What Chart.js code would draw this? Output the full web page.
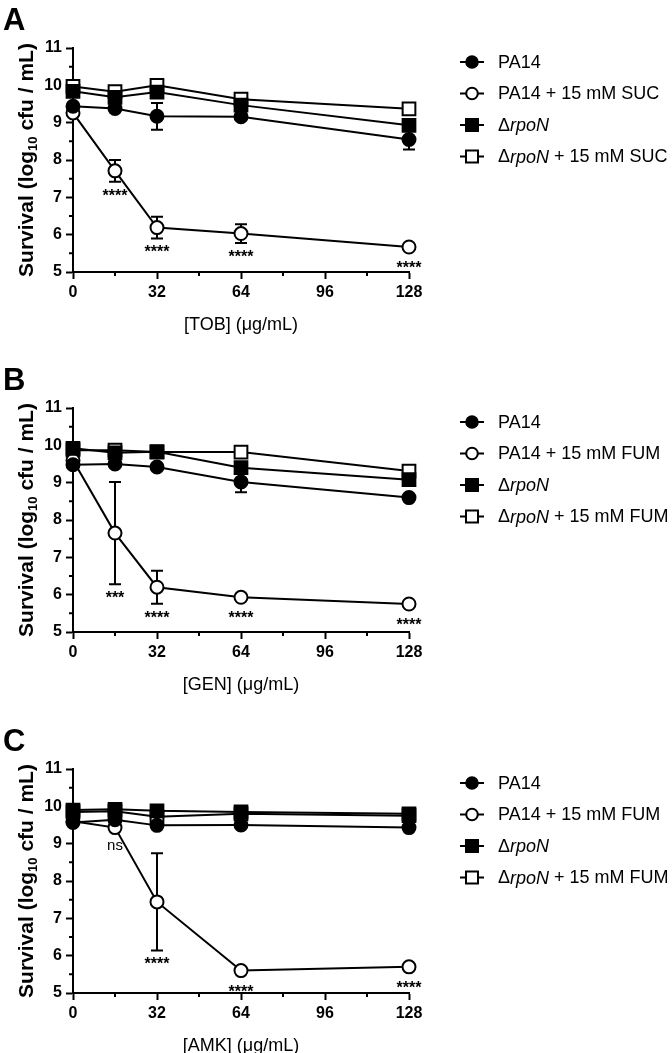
<!DOCTYPE html>
<html>
<head>
<meta charset="utf-8">
<script src="https://cdn.jsdelivr.net/npm/chart.js@4.4.0/dist/chart.umd.min.js"></script>
<style>
  html, body { margin: 0; padding: 0; background: #fff; overflow: hidden; }
  .panel { position: absolute; left: 0; width: 672px; height: 336px; }
</style>
</head>
<body>
<div class="panel" style="top:0"><canvas id="chartA" width="672" height="336"></canvas></div>
<div class="panel" style="top:360px"><canvas id="chartB" width="672" height="336"></canvas></div>
<div class="panel" style="top:721px"><canvas id="chartC" width="672" height="336"></canvas></div>
<script>
const FONT = "'Liberation Sans', Arial, Helvetica, sans-serif";

// antibiotic dose (ug/mL)
const doses = [0, 16, 32, 64, 128];
const minorX = [16, 48, 80, 112];
const minorY = [5.5, 6.5, 7.5, 8.5, 9.5, 10.5];

// A - tobramycin, succinate
const tobPA14 = [9.44, 9.38, 9.17, 9.16, 8.55];
const tobPA14Err = [0.05, 0.05, 0.36, 0.08, 0.27];
const tobPA14Suc = [9.26, 7.71, 6.19, 6.03, 5.67];
const tobPA14SucErr = [0, 0.29, 0.29, 0.25, 0];
const tobRpoN = [9.84, 9.68, 9.82, 9.47, 8.93];
const tobRpoNErr = [0.05, 0.05, 0.05, 0.05, 0.08];
const tobRpoNSuc = [9.97, 9.83, 10.0, 9.63, 9.37];
const tobRpoNSucErr = [0, 0, 0, 0, 0];
const tobStars = ['', '****', '****', '****', '****'];

// B - gentamicin, fumarate
const genPA14 = [9.48, 9.5, 9.42, 9.02, 8.6];
const genPA14Err = [0, 0, 0, 0.28, 0];
const genPA14Fum = [9.6, 7.65, 6.2, 5.93, 5.75];
const genPA14FumErr = [0, 1.37, 0.44, 0, 0];
const genRpoN = [9.92, 9.8, 9.83, 9.4, 9.08];
const genRpoNErr = [0, 0, 0, 0, 0.15];
const genRpoNFum = [9.87, 9.87, 9.82, 9.82, 9.31];
const genRpoNFumErr = [0, 0, 0, 0, 0];
const genStars = ['', '***', '****', '****', '****'];

// C - amikacin, fumarate
const amkPA14 = [9.57, 9.64, 9.49, 9.5, 9.43];
const amkPA14Err = [0, 0, 0, 0, 0];
const amkPA14Fum = [9.6, 9.43, 7.44, 5.6, 5.7];
const amkPA14FumErr = [0, 0, 1.3, 0, 0];
const amkRpoN = [9.9, 9.92, 9.88, 9.85, 9.8];
const amkRpoNErr = [0, 0, 0, 0, 0];
const amkRpoNFum = [9.85, 9.87, 9.72, 9.8, 9.75];
const amkRpoNFumErr = [0, 0, 0, 0, 0];
const amkStars = ['', 'ns', '****', '****', '****'];

const sucNames = ['PA14', 'PA14 + 15 mM SUC', '\u0394rpoN', '\u0394rpoN + 15 mM SUC'];
const fumNames = ['PA14', 'PA14 + 15 mM FUM', '\u0394rpoN', '\u0394rpoN + 15 mM FUM'];

const fills = ['#000', '#fff', '#000', '#fff'];
const shapes = ['circle', 'circle', 'rect', 'rect'];

function drawMarker(ctx, shape, x, y, fill) {
  ctx.save();
  ctx.fillStyle = fill;
  ctx.strokeStyle = '#000';
  ctx.lineWidth = 2;
  ctx.beginPath();
  if (shape === 'circle') ctx.arc(x, y, 5.8, 0, Math.PI * 2);
  else ctx.rect(x - 6, y - 6, 12, 12);
  ctx.fill();
  ctx.stroke();
  ctx.restore();
}

// draw a label with "rpoN" in italics
function drawRich(ctx, text, x, y, size) {
  const parts = text.split(/(rpoN)/).filter(p => p);
  let cx = x;
  parts.forEach(p => {
    ctx.font = (p === 'rpoN' ? 'italic ' : '') + size + 'px ' + FONT;
    ctx.fillText(p, cx, y);
    cx += ctx.measureText(p).width;
  });
}

const decor = {
  id: 'decor',
  beforeDatasetsDraw(chart) {
    const ctx = chart.ctx, xs = chart.scales.x, ys = chart.scales.y;
    ctx.save();
    ctx.strokeStyle = '#000';
    ctx.lineWidth = 2;
    // error bars
    chart.data.datasets.forEach(ds => {
      ds.errors.forEach((e, j) => {
        if (!e) return;
        const px = xs.getPixelForValue(ds.data[j].x);
        const hi = ys.getPixelForValue(ds.data[j].y + e);
        const lo = ys.getPixelForValue(ds.data[j].y - e);
        ctx.beginPath();
        ctx.moveTo(px, hi); ctx.lineTo(px, lo);
        ctx.moveTo(px - 6, hi); ctx.lineTo(px + 6, hi);
        ctx.moveTo(px - 6, lo); ctx.lineTo(px + 6, lo);
        ctx.stroke();
      });
    });
    // minor ticks
    const a = chart.chartArea;
    ctx.beginPath();
    minorX.forEach(v => {
      const px = xs.getPixelForValue(v);
      ctx.moveTo(px, a.bottom); ctx.lineTo(px, a.bottom + 4);
    });
    minorY.forEach(v => {
      const py = ys.getPixelForValue(v);
      ctx.moveTo(a.left - 4, py); ctx.lineTo(a.left, py);
    });
    ctx.stroke();
    ctx.restore();
  },
  afterDatasetsDraw(chart) {
    const ctx = chart.ctx, xs = chart.scales.x, ys = chart.scales.y;
    ctx.save();
    ctx.fillStyle = '#000';
    ctx.textAlign = 'center';
    ctx.textBaseline = 'alphabetic';
    chart.data.datasets.forEach(ds => {
      if (!ds.stars) return;
      ds.stars.forEach((s, j) => {
        if (!s) return;
        const px = xs.getPixelForValue(ds.data[j].x);
        const lo = Math.max(ys.getPixelForValue(ds.data[j].y - ds.errors[j]),
                            ys.getPixelForValue(ds.data[j].y) + 7);
        ctx.font = s === 'ns' ? '15px ' + FONT : 'bold 16px ' + FONT;
        const m = ctx.measureText(s);
        ctx.fillText(s, px, lo + 7 + m.actualBoundingBoxAscent);
      });
    });
    ctx.restore();
  },
  afterDraw(chart, args, opts) {
    const ctx = chart.ctx, a = chart.chartArea;
    ctx.save();
    ctx.fillStyle = '#000';
    ctx.textBaseline = 'alphabetic';

    // panel letter
    ctx.textAlign = 'left';
    ctx.font = 'bold 31px ' + FONT;
    ctx.fillText(opts.letter, 3, 30);

    // x title
    ctx.textAlign = 'center';
    ctx.font = '18px ' + FONT;
    ctx.fillText(opts.xTitle, (a.left + a.right) / 2, 330);

    // y title with subscript
    ctx.translate(33, (a.top + a.bottom) / 2);
    ctx.rotate(-Math.PI / 2);
    ctx.textAlign = 'left';
    const segs = [['Survival (log', 21, 0], ['10', 13, 4], [' cfu / mL)', 21, 0]];
    let total = 0;
    segs.forEach(s => { ctx.font = 'bold ' + s[1] + 'px ' + FONT; total += ctx.measureText(s[0]).width; });
    let cx = -total / 2;
    segs.forEach(s => {
      ctx.font = 'bold ' + s[1] + 'px ' + FONT;
      ctx.fillText(s[0], cx, s[2]);
      cx += ctx.measureText(s[0]).width;
    });
    ctx.restore();

    // legend
    ctx.save();
    ctx.fillStyle = '#000';
    ctx.textBaseline = 'middle';
    ctx.textAlign = 'left';
    chart.data.datasets.forEach((ds, i) => {
      const y = a.top + 14 + i * 31.5;
      ctx.strokeStyle = '#000';
      ctx.lineWidth = 2;
      ctx.beginPath();
      ctx.moveTo(460, y); ctx.lineTo(484, y);
      ctx.stroke();
      drawMarker(ctx, shapes[i], 472, y, fills[i]);
      ctx.fillStyle = '#000';
      drawRich(ctx, ds.label, 498, y + 1, 18);
    });
    ctx.restore();
  }
};

function buildPanel(id, letter, xTitle, names, series, errors, stars) {
  const datasets = series.map((vals, i) => ({
    label: names[i],
    data: doses.map((d, j) => ({ x: d, y: vals[j] })),
    errors: errors[i],
    stars: i === 1 ? stars : null,
    borderColor: '#000',
    borderWidth: 2,
    backgroundColor: fills[i],
    pointStyle: shapes[i],
    pointRadius: shapes[i] === 'rect' ? 9 : 6.5,
    pointBackgroundColor: fills[i],
    pointBorderColor: '#000',
    pointBorderWidth: 2,
    tension: 0,
    clip: false,
    order: i % 2
  }));

  const tickFont = { family: FONT, size: 16, weight: 'bold' };
  new Chart(document.getElementById(id), {
    type: 'line',
    data: { datasets },
    options: {
      responsive: false,
      animation: false,
      layout: { padding: { top: 48, right: 263, bottom: 0, left: 0 } },
      plugins: {
        legend: { display: false },
        tooltip: { enabled: false },
        decor: { letter, xTitle }
      },
      scales: {
        x: {
          type: 'linear', min: 0, max: 128,
          ticks: { stepSize: 32, font: tickFont, color: '#000', padding: 4, maxRotation: 0 },
          grid: { drawOnChartArea: false, tickLength: 7, tickWidth: 2, tickColor: '#000' },
          border: { color: '#000', width: 2 },
          afterFit: s => { s.height = 336 - 272; }
        },
        y: {
          min: 5, max: 11,
          ticks: { stepSize: 1, font: tickFont, color: '#000', padding: 4 },
          grid: { drawOnChartArea: false, tickLength: 7, tickWidth: 2, tickColor: '#000' },
          border: { color: '#000', width: 2 },
          afterFit: s => { s.width = 73; }
        }
      }
    },
    plugins: [decor]
  });
}

buildPanel('chartA', 'A', '[TOB] (\u03bcg/mL)', sucNames,
  [tobPA14, tobPA14Suc, tobRpoN, tobRpoNSuc],
  [tobPA14Err, tobPA14SucErr, tobRpoNErr, tobRpoNSucErr], tobStars);
buildPanel('chartB', 'B', '[GEN] (\u03bcg/mL)', fumNames,
  [genPA14, genPA14Fum, genRpoN, genRpoNFum],
  [genPA14Err, genPA14FumErr, genRpoNErr, genRpoNFumErr], genStars);
buildPanel('chartC', 'C', '[AMK] (\u03bcg/mL)', fumNames,
  [amkPA14, amkPA14Fum, amkRpoN, amkRpoNFum],
  [amkPA14Err, amkPA14FumErr, amkRpoNErr, amkRpoNFumErr], amkStars);
</script>
</body>
</html>
